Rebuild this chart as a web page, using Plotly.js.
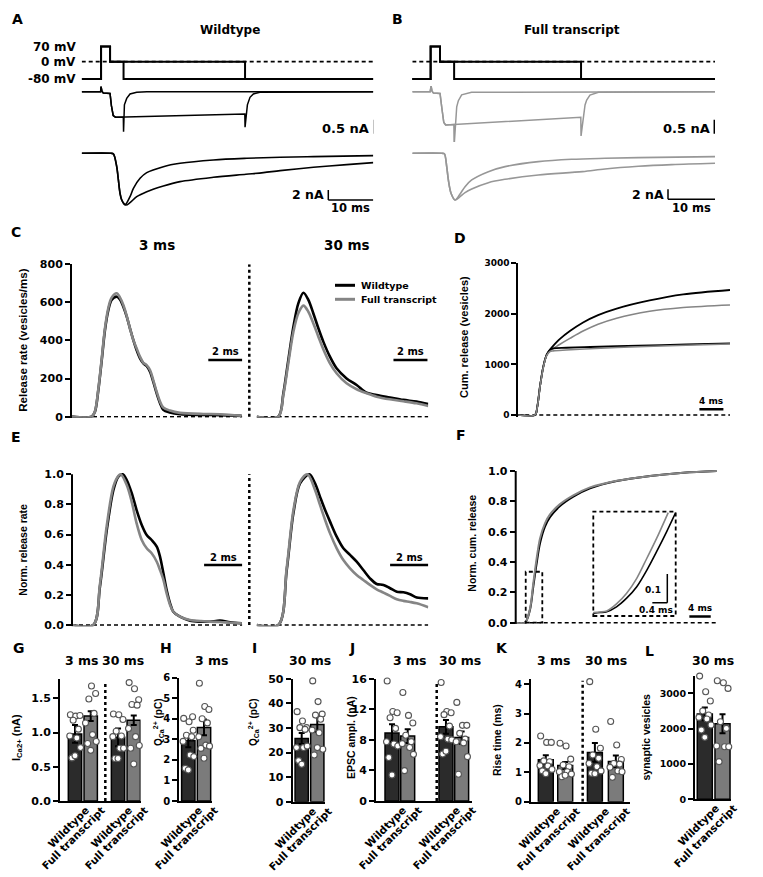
<!DOCTYPE html>
<html><head><meta charset="utf-8">
<script src="https://cdn.plot.ly/plotly-3.0.1.min.js"></script>
<style>html,body{margin:0;padding:0;background:#fff}#wrap{position:relative;width:763px;height:877px}#chart{width:763px;height:877px}
.blab{position:absolute;white-space:nowrap;font-family:'DejaVu Sans';font-weight:bold;font-size:10.5px;line-height:12px;color:#000;transform-origin:100% 0;transform:rotate(-45deg)}</style>
</head><body><div id="wrap"><div id="chart"></div></div>
<script>
// ---------------- DATA ----------------
const vT3 = [-6.3, -2, -2, 0, 0, 3, 3, 58.5];
const vV3 = [-80, -80, 70, 70, 0, 0, -80, -80];
const vT30 = [-6.3, -2, -2, 0, 0, 30, 30, 58.5];
const vV30 = [-80, -80, 70, 70, 0, 0, -80, -80];
const iWT3_t = [-6.3, -2.1, -2.0, -1.8, -1.5, 0, 0.3, 0.7, 1.2, 2.95, 3.0, 3.19, 3.7, 4.44, 5.93, 8.2, 58.5];
const iWT3   = [0, 0, 0.18, 0.02, -0.05, -0.06, -0.5, -0.85, -0.91, -0.91, -1.43, -0.47, -0.24, -0.08, -0.02, 0, 0];
const iWT30_t = [-6.3, -2.1, -2.0, -1.8, -1.5, 0, 0.3, 0.7, 1.2, 10, 20, 29.95, 30.0, 30.52, 31.1, 31.85, 33.3, 58.5];
const iWT30   = [0, 0, 0.18, 0.02, -0.05, -0.06, -0.5, -0.85, -0.91, -0.88, -0.84, -0.80, -1.27, -0.47, -0.2, -0.08, -0.02, 0];
const iFT3_t = [-5.9, -2.1, -1.9, -1.7, -1.4, 0, 0.4, 0.8, 1.2, 2.95, 3.0, 3.55, 3.9, 4.6, 6.7, 58.5];
const iFT3   = [0, 0, 0.2, 0.02, -0.05, -0.06, -0.6, -1.1, -1.19, -1.17, -1.94, -0.54, -0.32, -0.11, -0.02, 0];
const iFT30_t = [-5.9, -2.1, -1.9, -1.7, -1.4, 0, 0.4, 0.8, 1.2, 10, 20, 29.95, 30.0, 30.85, 31.2, 31.9, 33.7, 58.5];
const iFT30   = [0, 0, 0.2, 0.02, -0.05, -0.06, -0.6, -1.1, -1.19, -1.1, -1.0, -0.91, -1.58, -0.475, -0.3, -0.12, -0.02, 0];
const eWT3_t = [-6.3, 0.2, 0.74, 1.48, 1.85, 2.22, 2.59, 3.3, 4.44, 5.19, 6.67, 8.15, 11.85, 15.56, 22.96, 30.4, 37.8, 45.2, 58.5];
const epWT3  = [0, 0, -0.1, -2.67, -5.33, -8.0, -9.33, -10.3, -8.67, -7.0, -5.0, -3.87, -2.67, -2.0, -1.33, -1.0, -0.8, -0.67, -0.47];
const eWT30_t = [-6.3, 0.2, 0.74, 1.48, 1.85, 2.22, 2.59, 3.5, 4.44, 5.93, 8.15, 11.85, 15.56, 22.96, 30.2, 34.1, 37.8, 45.2, 52.6, 58.5];
const epWT30  = [0, 0, -0.1, -2.67, -5.33, -8.0, -9.33, -10.33, -9.87, -8.67, -7.67, -6.53, -5.67, -4.8, -4.2, -3.87, -3.47, -2.8, -2.27, -1.87];
const eFT3_t = [-5.9, 0.4, 0.92, 1.42, 1.77, 2.34, 3.19, 4.26, 5.32, 6.74, 10.28, 13.83, 20.9, 28.0, 35.1, 42.2, 58.5];
const epFT3  = [0, 0, -0.1, -2.67, -5.33, -8.0, -9.33, -8.13, -6.67, -5.33, -3.67, -2.67, -1.67, -1.2, -1.0, -0.87, -0.67];
const eFT30_t = [-5.9, 0.4, 0.92, 1.42, 1.77, 2.34, 3.19, 4.26, 5.32, 6.74, 10.28, 13.83, 20.9, 30.3, 35.1, 42.2, 49.3, 58.5];
const epFT30  = [0, 0, -0.1, -2.67, -5.33, -8.0, -9.33, -8.67, -7.87, -7.13, -5.87, -5.2, -4.33, -3.67, -3.13, -2.6, -2.27, -2.0];
const cT3 = [0, 1.16, 1.35, 1.55, 1.75, 1.94, 2.14, 2.33, 2.63, 2.82, 3.02, 3.22, 3.41, 3.61, 3.8, 4.0, 4.2, 4.39, 4.59, 4.78, 4.98, 5.18, 5.37, 5.76, 6.35, 7.73, 8.71, 9.98];
const cWT3 = [0, 0, 26, 140, 297, 455, 560, 613, 630, 616, 577, 525, 464, 402, 350, 306, 280, 266, 236, 184, 123, 71, 36, 22, 13, 9, 8, 4];
const cFT3 = [0, 0, 28, 145, 305, 465, 572, 625, 648, 626, 586, 528, 464, 402, 359, 315, 283, 271, 245, 192, 131, 79, 48, 32, 20, 14, 13, 5];
const cT30 = [0, 1.27, 1.57, 1.86, 2.16, 2.45, 2.75, 3.04, 3.33, 3.63, 3.92, 4.31, 4.7, 5.29, 5.88, 6.47, 7.06, 7.84, 8.63, 9.41, 10.1];
const cWT30 = [0, 0, 123, 297, 472, 595, 651, 613, 543, 464, 394, 315, 254, 201, 166, 126, 114, 101, 88, 79, 66];
const cFT30 = [0, 0, 114, 280, 446, 543, 583, 551, 490, 420, 354, 280, 228, 175, 144, 123, 105, 91, 81, 70, 56];
const dT30 = [0, 2.79, 3.17, 3.61, 4.17, 4.72, 5.28, 5.85, 6.39, 6.95, 8.6, 10.8, 13.3, 16.4, 21.9, 27.5, 35.3];
const dWT30 = [0, 0, 165, 560, 956, 1187, 1290, 1370, 1440, 1505, 1660, 1830, 1975, 2105, 2265, 2385, 2472];
const dFT30 = [0, 0, 160, 550, 945, 1175, 1265, 1315, 1358, 1400, 1515, 1660, 1795, 1915, 2050, 2125, 2176];
const dT3 = [0, 2.79, 3.17, 3.61, 4.17, 4.72, 5.28, 5.85, 8, 12, 20, 28, 35.3];
const dWT3 = [0, 0, 165, 560, 956, 1187, 1290, 1319, 1330, 1345, 1370, 1395, 1418];
const dFT3 = [0, 0, 160, 550, 945, 1175, 1255, 1268, 1285, 1310, 1350, 1380, 1404];
const eT3wt = [0, 1.12, 1.47, 1.83, 2.18, 2.44, 2.67, 2.88, 3.14, 3.4, 3.67, 3.93, 4.19, 4.46, 4.63, 4.81, 4.98, 5.16, 5.33, 5.68, 6.21, 6.74, 7.26, 7.79, 8.32, 8.93];
const nWT3 = [0, 0, 0.254, 0.63, 0.896, 0.985, 1.0, 0.962, 0.876, 0.763, 0.664, 0.597, 0.564, 0.52, 0.454, 0.343, 0.232, 0.144, 0.088, 0.055, 0.029, 0.022, 0.022, 0.029, 0.018, 0.011];
const eT3ft = [0, 1.12, 1.47, 1.83, 2.18, 2.44, 2.56, 2.88, 3.14, 3.4, 3.67, 3.93, 4.19, 4.46, 4.63, 4.81, 4.98, 5.16, 5.33, 5.68, 6.21, 6.74, 7.26, 7.79, 8.32, 8.93];
const nFT3 = [0, 0, 0.27, 0.66, 0.92, 0.99, 1.0, 0.929, 0.819, 0.675, 0.564, 0.509, 0.476, 0.42, 0.365, 0.299, 0.21, 0.133, 0.088, 0.055, 0.033, 0.027, 0.022, 0.02, 0.015, 0.011];
const eT30wt = [0, 1.14, 1.58, 1.93, 2.28, 2.77, 3.07, 3.33, 3.6, 3.86, 4.21, 4.56, 4.91, 5.26, 5.61, 5.96, 6.31, 6.67, 7.02, 7.37, 7.72, 8.07, 8.42, 9.03];
const nWT30 = [0, 0, 0.365, 0.741, 0.94, 1.0, 0.94, 0.852, 0.763, 0.686, 0.586, 0.509, 0.465, 0.42, 0.365, 0.31, 0.272, 0.266, 0.244, 0.221, 0.217, 0.204, 0.182, 0.177];
const eT30ft = [0, 1.14, 1.58, 1.93, 2.28, 2.67, 3.07, 3.33, 3.6, 3.86, 4.21, 4.56, 4.91, 5.26, 5.61, 5.96, 6.31, 6.67, 7.02, 7.37, 7.72, 8.07, 8.42, 9.03];
const nFT30 = [0, 0, 0.38, 0.76, 0.95, 1.0, 0.896, 0.797, 0.697, 0.608, 0.509, 0.431, 0.376, 0.332, 0.299, 0.266, 0.237, 0.215, 0.193, 0.171, 0.16, 0.153, 0.144, 0.118];
const fT = [0, 1.74, 2.67, 3.3, 3.93, 4.56, 5.49, 6.43, 8.31, 10.81, 13.94, 18.95, 25.2, 31.45, 37.7];
const fWT = [0, 0, 0.084, 0.238, 0.391, 0.523, 0.633, 0.695, 0.769, 0.831, 0.886, 0.934, 0.967, 0.989, 1.0];
const fFT = [0, 0, 0.09, 0.26, 0.424, 0.556, 0.655, 0.714, 0.782, 0.84, 0.892, 0.936, 0.967, 0.989, 1.0];
const insTwt = [2.0, 2.18, 2.36, 2.62, 2.89, 3.16, 3.43, 3.69, 3.96, 4.2];
const insWT = [0.0, 0.002, 0.005, 0.022, 0.052, 0.092, 0.150, 0.214, 0.284, 0.35];
const insTft = [2.0, 2.18, 2.36, 2.62, 2.89, 3.16, 3.43, 3.69, 4.0];
const insFT = [0.002, 0.004, 0.0075, 0.032, 0.069, 0.121, 0.191, 0.26, 0.35];
const groupNames = ['Wildtype', 'Full transcript', 'Wildtype', 'Full transcript'];
const gMean = [0.98, 1.24, 0.93, 1.18], gSem = [0.13, 0.07, 0.13, 0.07];
const gCells = [[1.26,1.24,1.25,1.18,1.05,0.95,0.92,0.78,0.63,0.66],[1.8,1.68,1.57,1.49,1.28,1.14,0.97,0.87,0.84,0.74],[1.27,1.26,1.19,1.02,0.95,0.94,0.77,0.77,0.62,0.62],[1.73,1.64,1.48,1.41,1.4,1.06,0.94,0.81,0.77,0.54]];
const hMean = [2.93, 3.58], hSem = [0.31, 0.38];
const hCells = [[4.02,3.86,3.44,3.2,3.13,2.9,2.24,2.16,1.59,1.51,4.1],[5.73,4.6,4.45,4.0,3.8,3.13,2.72,2.67,2.56,2.08]];
const iMean = [25.7, 31.4], iSem = [2.2, 3.0];
const iCells = [[36.6,32.8,30.1,30.1,29.4,22,22,22.6,16.7,15.2],[49.1,40.7,35.6,35.2,33.5,29.1,28,21.3,19.0,22]];
const jMean = [8.9, 8.5, 9.7, 8.3], jSem = [1.15, 0.9, 0.9, 0.8];
const jCells = [[15.7,11.7,11.55,10.9,9.5,7.76,7.45,7.2,5.7,3.4],[14.2,11.2,10.2,8.6,7.76,7.5,7.0,6.1,3.97],[15.5,11.7,11.55,11.3,9.8,8.4,8.1,8.0,6.15,6.5],[12.9,9.9,9.9,8.85,8.1,7.76,7.6,5.8,3.5]];
const kMean = [1.43, 1.23, 1.68, 1.37], kSem = [0.15, 0.12, 0.32, 0.2];
const kCells = [[2.24,2.02,2.02,1.39,1.36,1.23,1.22,1.1,1.05,0.95],[1.99,1.9,1.45,1.25,1.19,1.02,1.02,0.94,0.85,0.9],[4.09,2.47,1.82,1.59,1.48,1.3,1.19,1.05,0.97,0.95],[2.73,1.93,1.44,1.3,1.28,1.17,1.05,1.02,0.83]];
const lMean = [2420, 2140], lSem = [180, 270];
const lCells = [[3490,3047,2783,2500,2387,2320,2274,2104,1962,1755],[3358,3302,3142,2198,2009,1509,1490,1490,1066]];

// ---------------- LAYOUT HELPERS ----------------
const W = 763, H = 877;
const dx = (a, b) => [a / W, b / W];
const dy = (t, b) => [1 - b / H, 1 - t / H];
const FB = 'DejaVu Sans', FL = 'Liberation Sans';
const BLACK = '#000', GRAY_AB = '#979797', GRAY_CF = '#858585';
const WT_FILL = '#2b2b2b', FT_FILL = '#7b7b7b';

const traces = [], shapes = [], annotations = [];
const layout = {width: W, height: H, margin: {l: 0, r: 0, t: 0, b: 0}, showlegend: false,
  paper_bgcolor: '#fff', plot_bgcolor: 'rgba(0,0,0,0)', shapes, annotations};

function hid(dom, range, anchor) { return {domain: dom, range, anchor, visible: false, fixedrange: true}; }
function yVis(dom, range, anchor, tickvals, size, fmt, showline) {
  return {domain: dom, range, anchor, showline: showline !== false, linewidth: 2, linecolor: '#000',
    ticks: 'outside', ticklen: 5, tickwidth: 2, tickcolor: '#000', tickvals, tickformat: fmt || '',
    tickfont: {family: FB, size, color: '#000', weight: 'bold'}, showgrid: false, zeroline: false, fixedrange: true};
}
function xBar(dom, range, anchor) {
  return {domain: dom, range, anchor, showline: true, linewidth: 2, linecolor: '#000', ticks: '',
    showticklabels: false, showgrid: false, zeroline: false, fixedrange: true};
}
function line(xa, ya, x, y, color, width, spline) {
  traces.push({type: 'scatter', mode: 'lines', x, y, xaxis: xa, yaxis: ya, hoverinfo: 'skip',
    line: {color, width, shape: spline ? 'spline' : 'linear', smoothing: 0.9}});
}
function seg(xref, yref, x0, y0, x1, y1, w, dash, layer) {
  shapes.push({type: 'line', xref, yref, x0, y0, x1, y1, layer: layer || 'above',
    line: {color: '#000', width: w, dash: dash || 'solid'}});
}
function ann(text, x, y, size, opts) {
  annotations.push(Object.assign({text, x: x / W, y: 1 - y / H, xref: 'paper', yref: 'paper', showarrow: false,
    xanchor: 'center', yanchor: 'middle', font: {family: FB, size, color: '#000', weight: 'bold'}}, opts || {}));
}
function annD(text, xref, yref, x, y, size, opts) {
  annotations.push(Object.assign({text, x, y, xref, yref, showarrow: false, xanchor: 'center', yanchor: 'middle',
    font: {family: FB, size, color: '#000', weight: 'bold'}}, opts || {}));
}
const DASH = '4px,3px';

// ---------------- A / B ----------------
layout.xaxis = hid(dx(81.7, 373.3), [-6.3, 58.5], 'y');
layout.yaxis = hid(dy(40, 85), [-107.8, 100.5], 'x');
layout.yaxis2 = hid(dy(83.3, 142.1), [-1.8, 0.3], 'x');
layout.yaxis3 = hid(dy(145, 210), [-11.34, 1.66], 'x');
layout.xaxis2 = hid(dx(412.3, 715), [-5.9, 58.5], 'y4');
layout.yaxis4 = hid(dy(40, 85), [-107.8, 100.5], 'x2');
layout.yaxis5 = hid(dy(83.3, 142.1), [-1.8, 0.3], 'x2');
layout.yaxis6 = hid(dy(145, 210), [-11.34, 1.66], 'x2');

seg('x', 'y', -6.3, 0, 58.5, 0, 1.8, DASH, 'below');
seg('x2', 'y4', -5.9, 0, 58.5, 0, 1.8, DASH, 'below');
[['x', 'y'], ['x2', 'y4']].forEach(([xa, ya]) => {
  line(xa, ya, vT3, vV3, BLACK, 2);
  line(xa, ya, vT30, vV30, BLACK, 2);
});
line('x', 'y2', iWT3_t, iWT3, BLACK, 1.5);
line('x', 'y2', iWT30_t, iWT30, BLACK, 1.5);
line('x', 'y3', eWT3_t, epWT3, BLACK, 1.6, true);
line('x', 'y3', eWT30_t, epWT30, BLACK, 1.6, true);
line('x2', 'y5', iFT3_t, iFT3, GRAY_AB, 1.5);
line('x2', 'y5', iFT30_t, iFT30, GRAY_AB, 1.5);
line('x2', 'y6', eFT3_t, epFT3, GRAY_AB, 1.6, true);
line('x2', 'y6', eFT30_t, epFT30, GRAY_AB, 1.6, true);

seg('x', 'y2', 58.65, -1.0, 58.65, -1.5, 1.5);
seg('x', 'y3', 48.5, -9.34, 58.5, -9.34, 1.5);
seg('x', 'y3', 48.5, -9.34, 48.5, -7.34, 1.5);
annD('0.5 nA', 'x', 'y2', 58.0, -1.3, 13, {xanchor: 'right'});
annD('2 nA', 'x', 'y3', 48.0, -8.3, 12.5, {xanchor: 'right'});
annD('10 ms', 'x', 'y3', 53.5, -11.0, 11.5);
seg('x2', 'y5', 58.35, -1.0, 58.35, -1.5, 1.5);
seg('x2', 'y6', 48.5, -9.2, 58.5, -9.2, 1.5);
seg('x2', 'y6', 48.5, -9.2, 48.5, -7.2, 1.5);
annD('0.5 nA', 'x2', 'y5', 57.9, -1.3, 13, {xanchor: 'right'});
annD('2 nA', 'x2', 'y6', 48.1, -8.3, 12.5, {xanchor: 'right'});
annD('10 ms', 'x2', 'y6', 53.5, -11.0, 11.5);

ann('70 mV', 78, 46.7, 12, {xanchor: 'right'});
ann('0 mV', 78, 61.7, 12, {xanchor: 'right'});
ann('-80 mV', 78, 79, 12, {xanchor: 'right'});
ann('Wildtype', 230, 30, 12);
ann('Full transcript', 572, 30, 12);

// ---------------- C ----------------
layout.xaxis3 = hid(dx(72, 242.3), [0, 10.02], 'y7');
layout.xaxis4 = hid(dx(256.7, 428.3), [0, 10.1], 'y7');
layout.yaxis7 = yVis(dy(264.3, 417.8), [-6, 800], 'x3', [0, 200, 400, 600, 800], 11);
seg('x3', 'y7', 0, 0, 10.02, 0, 1.5, DASH, 'below');
seg('x4', 'y7', 0, 0, 10.1, 0, 1.5, DASH, 'below');
seg('paper', 'y7', 249.3 / W, 0, 249.3 / W, 800, 2.5, 'dot');
line('x3', 'y7', cT3, cWT3, BLACK, 2.6, true);
line('x3', 'y7', cT3, cFT3, GRAY_CF, 2.6, true);
line('x4', 'y7', cT30, cWT30, BLACK, 2.6, true);
line('x4', 'y7', cT30, cFT30, GRAY_CF, 2.6, true);
seg('x3', 'y7', 8.02, 298, 10.02, 298, 2.5);
seg('x4', 'y7', 8.05, 298, 10.05, 298, 2.5);
annD('2 ms', 'x3', 'y7', 9.02, 340, 10);
annD('2 ms', 'x4', 'y7', 9.05, 340, 10);
ann('3 ms', 157, 245, 13.5);
ann('30 ms', 347, 245, 13.5);
seg('paper', 'paper', 335 / W, 1 - 285.3 / H, 355 / W, 1 - 285.3 / H, 3);
shapes.push({type: 'line', xref: 'paper', yref: 'paper', x0: 335 / W, x1: 355 / W, y0: 1 - 299.3 / H, y1: 1 - 299.3 / H, line: {color: GRAY_CF, width: 3}});
ann('Wildtype', 359, 285.3, 9.5, {xanchor: 'left'});
ann('Full transcript', 359, 299.3, 9.5, {xanchor: 'left'});
ann('Release rate (vesicles/ms)', 22.7, 340, 11.5, {textangle: -90, font: {family: FL, size: 11.5, color: '#000', weight: 'bold'}});

// ---------------- D ----------------
layout.xaxis5 = hid(dx(518.3, 730), [0, 35.3], 'y8');
layout.yaxis8 = yVis(dy(263.3, 416.5), [-30, 3000], 'x5', [0, 1000, 2000, 3000], 9);
seg('x5', 'y8', 0, 0, 35.3, 0, 1.5, DASH, 'below');
line('x5', 'y8', dT30, dWT30, BLACK, 1.8, true);
line('x5', 'y8', dT30, dFT30, GRAY_CF, 1.6, true);
line('x5', 'y8', dT3, dWT3, BLACK, 1.8, true);
line('x5', 'y8', dT3, dFT3, GRAY_CF, 1.6, true);
seg('x5', 'y8', 30.2, 113, 34.2, 113, 2.5);
annD('4 ms', 'x5', 'y8', 32.2, 277, 9);
ann('Cum. release (vesicles)', 463.3, 336.7, 11, {textangle: -90, font: {family: FL, size: 11, color: '#000', weight: 'bold'}});

// ---------------- E ----------------
layout.xaxis6 = hid(dx(72, 242.3), [0, 8.96], 'y9');
layout.xaxis7 = hid(dx(256.7, 428.3), [0, 9.03], 'y9');
layout.yaxis9 = yVis(dy(469.8, 626.2), [-0.008, 1.03], 'x6', [0, 0.2, 0.4, 0.6, 0.8, 1.0], 11, '.1f', false);
seg('x6 domain', 'y9', 0, -0.008, 0, 1.0, 2);
seg('x6', 'y9', 0, 0, 8.96, 0, 1.5, DASH, 'below');
seg('x7', 'y9', 0, 0, 9.03, 0, 1.5, DASH, 'below');
seg('paper', 'y9', 249.3 / W, 0, 249.3 / W, 1.0, 2.5, 'dot');
line('x6', 'y9', eT3wt, nWT3, BLACK, 2.6, true);
line('x6', 'y9', eT3ft, nFT3, GRAY_CF, 2.6, true);
line('x7', 'y9', eT30wt, nWT30, BLACK, 2.6, true);
line('x7', 'y9', eT30ft, nFT30, GRAY_CF, 2.6, true);
seg('x6', 'y9', 6.95, 0.398, 8.96, 0.398, 2.5);
seg('x7', 'y9', 7.02, 0.398, 9.03, 0.398, 2.5);
annD('2 ms', 'x6', 'y9', 7.95, 0.445, 10);
annD('2 ms', 'x7', 'y9', 8.02, 0.445, 10);
ann('Norm. release rate', 22.7, 550, 10.5, {textangle: -90, font: {family: FL, size: 10.5, color: '#000', weight: 'bold'}});

// ---------------- F ----------------
layout.xaxis8 = hid(dx(515.7, 716.7), [0, 37.7], 'y10');
layout.yaxis10 = yVis(dy(466.5, 623.9), [-0.008, 1.03], 'x8', [0, 0.2, 0.4, 0.6, 0.8, 1.0], 11, '.1f', false);
seg('x8 domain', 'y10', 0, -0.008, 0, 1.0, 2);
seg('x8', 'y10', 0, 0, 37.7, 0, 1.5, DASH, 'below');
line('x8', 'y10', fT, fWT, BLACK, 2, true);
line('x8', 'y10', fT, fFT, GRAY_CF, 2, true);
shapes.push({type: 'rect', xref: 'x8', yref: 'y10', x0: 1.88, x1: 4.99, y0: 0, y1: 0.336, line: {color: '#000', width: 1.8, dash: DASH}});
layout.xaxis9 = hid(dx(593.3, 675.7), [2.0, 4.2], 'y11');
layout.yaxis11 = hid(dy(511.7, 616), [-0.01, 0.353], 'x9');
shapes.push({type: 'rect', xref: 'x9 domain', yref: 'y11 domain', x0: 0, x1: 1, y0: 0, y1: 1, line: {color: '#000', width: 1.8, dash: DASH}});
line('x9', 'y11', insTwt, insWT, BLACK, 1.6, true);
line('x9', 'y11', insTft, insFT, GRAY_CF, 1.6, true);
seg('x9', 'y11', 3.576, 0.0363, 3.976, 0.0363, 1.5);
seg('x9', 'y11', 3.976, 0.0363, 3.976, 0.136, 1.5);
ann('0.1', 663, 590, 9, {xanchor: 'right'});
ann('0.4 ms', 656, 610, 9);
seg('x8', 'y10', 32.57, 0.04, 36.58, 0.04, 2.5);
annD('4 ms', 'x8', 'y10', 34.57, 0.096, 9);
ann('Norm. cum. release', 471.7, 543, 10.5, {textangle: -90, font: {family: FL, size: 10.5, color: '#000', weight: 'bold'}});

// ---------------- G - L bar panels ----------------
const JIT = [-0.3, 0.05, 0.32, -0.12, 0.22, -0.34, 0.12, 0.36, -0.2, 0.0, 0.28];
const catLabels = [];
function barPanel(xn, yn, pos, means, sems, cells, width) {
  const xa = 'x' + xn, ya = 'y' + yn;
  traces.push({type: 'bar', x: pos, y: means, xaxis: xa, yaxis: ya, width: width, hoverinfo: 'skip',
    marker: {color: pos.map((p, i) => i % 2 === 0 ? WT_FILL : FT_FILL), line: {color: '#000', width: 1.5}},
    error_y: {type: 'data', array: sems, visible: true, color: '#000', thickness: 2, width: 3}});
  cells.forEach((vals, g) => {
    traces.push({type: 'scatter', mode: 'markers', xaxis: xa, yaxis: ya, hoverinfo: 'skip', cliponaxis: false,
      x: vals.map((v, i) => pos[g] + JIT[i % JIT.length] * width * 1.15), y: vals,
      marker: {size: 6, color: '#fff', line: {color: '#555', width: 1.1}}});
  });
  const ax = layout['xaxis' + xn], ay = layout['yaxis' + yn];
  const p0 = ax.domain[0] * W, p1 = ax.domain[1] * W;
  const yBot = (1 - ay.domain[0]) * H;
  pos.forEach((p, i) => {
    const px = p0 + (p - ax.range[0]) / (ax.range[1] - ax.range[0]) * (p1 - p0);
    catLabels.push([px + 8, yBot + 3, groupNames[i]]);
  });
}
layout.xaxis10 = xBar(dx(60, 140.5), [-0.955, 4.17], 'y12');
layout.yaxis12 = yVis(dy(679.3, 801), [0, 1.778], 'x10', [0, 0.5, 1.0, 1.5], 11, '.1f');
barPanel(10, 12, [0, 1, 2.74, 3.74], gMean, gSem, gCells, 0.85);
seg('x10', 'y12', 1.93, 0, 1.93, 1.72, 2.5, 'dot');
layout.xaxis11 = xBar(dx(179.3, 212), [-0.573, 1.51], 'y13');
layout.yaxis13 = yVis(dy(677.7, 801), [0, 6], 'x11', [0, 1, 2, 3, 4, 5, 6], 10);
barPanel(11, 13, [0, 1], hMean, hSem, hCells, 0.85);
layout.xaxis12 = xBar(dx(292.7, 325), [-0.577, 1.494], 'y14');
layout.yaxis14 = yVis(dy(678.7, 801.7), [0, 50], 'x12', [0, 10, 20, 30, 40, 50], 11);
barPanel(12, 14, [0, 1], iMean, iSem, iCells, 0.85);
layout.xaxis13 = xBar(dx(376, 472), [-1.02, 5.1], 'y15');
layout.yaxis15 = yVis(dy(678.7, 801), [0, 16], 'x13', [0, 4, 8, 12, 16], 11);
barPanel(13, 15, [0, 1, 3.44, 4.44], jMean, jSem, jCells, 0.89);
seg('x13', 'y15', 2.85, 0, 2.85, 15.7, 2.5, 'dot');
layout.xaxis14 = xBar(dx(531, 630), [-0.763, 4.34], 'y16');
layout.yaxis16 = yVis(dy(679.3, 801.7), [0, 4.17], 'x14', [0, 1, 2, 3, 4], 10);
barPanel(14, 16, [0, 1, 2.53, 3.61], kMean, kSem, kCells, 0.77);
seg('x14', 'y16', 1.9, 0, 1.9, 4.12, 2.5, 'dot');
layout.xaxis15 = xBar(dx(695, 731), [-0.554, 1.48], 'y17');
layout.yaxis17 = yVis(dy(676, 799.3), [0, 3493], 'x15', [0, 1000, 2000, 3000], 9.5);
barPanel(15, 17, [0, 1], lMean, lSem, lCells, 0.85);

ann('3 ms', 82, 660, 12.5); ann('30 ms', 123, 660, 12.5);
ann('3 ms', 212, 660, 12.5);
ann('30 ms', 310, 660, 12.5);
ann('3 ms', 410, 660, 12.5); ann('30 ms', 460, 660, 12.5);
ann('3 ms', 554, 660, 12.5); ann('30 ms', 606, 660, 12.5);
ann('30 ms', 713, 660, 12.5);
const yt = (t, x, y, s) => ann(t, x, y, s, {textangle: -90, font: {family: FL, size: s, color: '#000', weight: 'bold'}});
yt('I<sub>Ca2+</sub> (nA)', 17, 738, 11);
yt('Q<sub>Ca</sub><sup>2+</sup> (pC)', 158, 722, 10);
yt('Q<sub>Ca</sub><sup>2+</sup> (pC)', 253, 722, 10);
yt('EPSC ampl. (nA)', 351, 738, 10.5);
yt('Rise time (ms)', 497, 740, 10.5);
yt('synaptic vesicles', 645.5, 737, 10.5);

[['A', 17.5, 19], ['B', 397.5, 19], ['C', 16, 232], ['D', 460, 238], ['E', 16, 437], ['F', 461, 435],
 ['G', 19, 648], ['H', 165.5, 648], ['I', 255, 648], ['J', 352, 648], ['K', 502, 648], ['L', 649, 651]]
  .forEach(([t, x, y]) => ann(t, x, y, 14));

Plotly.newPlot('chart', traces, layout, {staticPlot: true}).then(() => {
  const wrap = document.getElementById('wrap');
  catLabels.forEach(([x, y, t]) => {
    const d = document.createElement('div');
    d.className = 'blab';
    d.textContent = t;
    d.style.right = (W - x) + 'px';
    d.style.top = y + 'px';
    wrap.appendChild(d);
  });
});
</script></body></html>
